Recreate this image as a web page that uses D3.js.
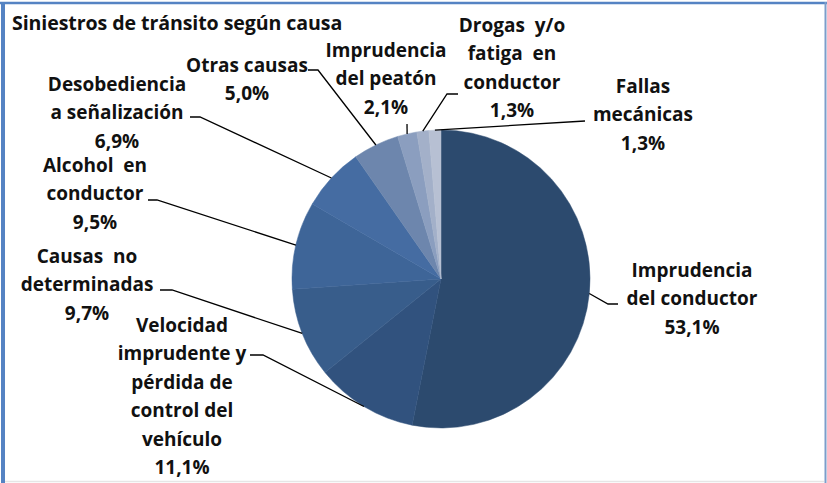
<!DOCTYPE html>
<html>
<head>
<meta charset="utf-8">
<script src="https://cdn.jsdelivr.net/npm/d3@7"></script>
<style>
  html, body { margin: 0; padding: 0; background: #fff; }
  svg text { font-family: "Open Sans", "Noto Sans", sans-serif; font-weight: bold; fill: #111; }
</style>
</head>
<body>
<div id="chart"></div>
<script>
// chart data
const chartTitle = 'Siniestros de tránsito según causa';
const causes = [
  'Imprudencia del conductor',
  'Velocidad imprudente y pérdida de control del vehículo',
  'Causas no determinadas',
  'Alcohol en conductor',
  'Desobediencia a señalización',
  'Otras causas',
  'Imprudencia del peatón',
  'Drogas y/o fatiga en conductor',
  'Fallas mecánicas'
];
const shares = [53.1, 11.1, 9.7, 9.5, 6.9, 5.0, 2.1, 1.3, 1.3];
// how each label breaks into lines
const labelLines = [
  ['Imprudencia', 'del conductor'],
  ['Velocidad', 'imprudente y', 'pérdida de', 'control del', 'vehículo'],
  ['Causas  no', 'determinadas'],
  ['Alcohol  en', 'conductor'],
  ['Desobediencia', 'a señalización'],
  ['Otras causas'],
  ['Imprudencia', 'del peatón'],
  ['Drogas  y/o', 'fatiga  en', 'conductor'],
  ['Fallas', 'mecánicas']
];

// -------------------------------------------------------------------------
// layout

const width = 827;
const height = 483;
const cx = 441;
const cy = 279;
const radius = 149;
const lineHeight = 28.4;

const sliceColors = ['#2c4a6e', '#31527e', '#385d8b', '#3e6598', '#456ca2',
  '#6d86ad', '#8b9ebf', '#a3b0c9', '#b7c0d3'];

// label placement: text centre x, first baseline y, elbow of leader, end of leader
const labelPos = [
  {tx: 692, ty: 277, ex: 608, ey: 304, hx: 618},
  {tx: 182, ty: 332, ex: 263, ey: 355, hx: 250},
  {tx: 87, ty: 263, ex: 172, ey: 290, hx: 160},
  {tx: 95, ty: 172, ex: 157, ey: 200, hx: 148},
  {tx: 117, ty: 91, ex: 200, ey: 117, hx: 190},
  {tx: 247, ty: 72, ex: 318, ey: 70, hx: 308},
  {tx: 386, ty: 57, ex: 407, ey: 124, hx: 407},
  {tx: 512, ty: 32, ex: 447, ey: 94, hx: 458},
  {tx: 643, ty: 93, ex: 585, ey: 121, hx: 585}
];

const svg = d3.select('#chart').append('svg')
  .attr('width', width)
  .attr('height', height);

svg.append('rect')
  .attr('width', width)
  .attr('height', height)
  .attr('fill', '#fff');

// frame
svg.append('line').attr('x1', 0).attr('x2', width).attr('y1', 3).attr('y2', 3)
  .attr('stroke', '#5583c3').attr('stroke-width', 2.5);
svg.append('line').attr('x1', 3).attr('x2', 3).attr('y1', 2).attr('y2', height)
  .attr('stroke', '#5583c3').attr('stroke-width', 4);
svg.append('line').attr('x1', 825.5).attr('x2', 825.5).attr('y1', 2).attr('y2', height)
  .attr('stroke', '#7d9dca').attr('stroke-width', 2);
svg.append('line').attr('x1', 5).attr('x2', 824).attr('y1', 481.5).attr('y2', 481.5)
  .attr('stroke', '#e6e6e6').attr('stroke-width', 1.5);

svg.append('text')
  .attr('x', 12)
  .attr('y', 30)
  .style('font-size', '19.6px')
  .style('letter-spacing', '-0.1px')
  .text(chartTitle);

const data = causes.map((c, i) => ({cause: c, share: shares[i], index: i}));

const pie = d3.pie()
  .value(d => d.share)
  .sort(null);

const arc = d3.arc()
  .innerRadius(0)
  .outerRadius(radius);

const g = svg.append('g')
  .attr('transform', `translate(${cx},${cy})`);

const arcs = pie(data);

g.selectAll('.slice')
  .data(arcs)
  .enter().append('path')
  .attr('class', 'slice')
  .attr('d', arc)
  .attr('fill', d => sliceColors[d.data.index])
  .attr('stroke', d => sliceColors[d.data.index])
  .attr('stroke-width', 0.5);

const fmt = v => d3.format('.1f')(v).replace('.', ',') + '%';

// leader lines from the edge of each slice
arcs.forEach(a => {
  const i = a.data.index;
  const p = labelPos[i];
  const mid = (a.startAngle + a.endAngle) / 2;
  const x0 = cx + Math.sin(mid) * radius;
  const y0 = cy - Math.cos(mid) * radius;
  const pts = [[x0, y0], [p.ex, p.ey], [p.hx, p.ey]];
  svg.append('path')
    .attr('d', d3.line()(pts))
    .attr('fill', 'none')
    .attr('stroke', '#000')
    .attr('stroke-width', 1.3);

  const lines = labelLines[i].concat([fmt(a.data.share)]);
  const t = svg.append('text')
    .attr('text-anchor', 'middle')
    .style('font-size', '19px');
  lines.forEach((l, k) => {
    t.append('tspan')
      .attr('x', p.tx)
      .attr('y', p.ty + k * lineHeight)
      .style('white-space', 'pre')
      .text(l);
  });
});
</script>
</body>
</html>
